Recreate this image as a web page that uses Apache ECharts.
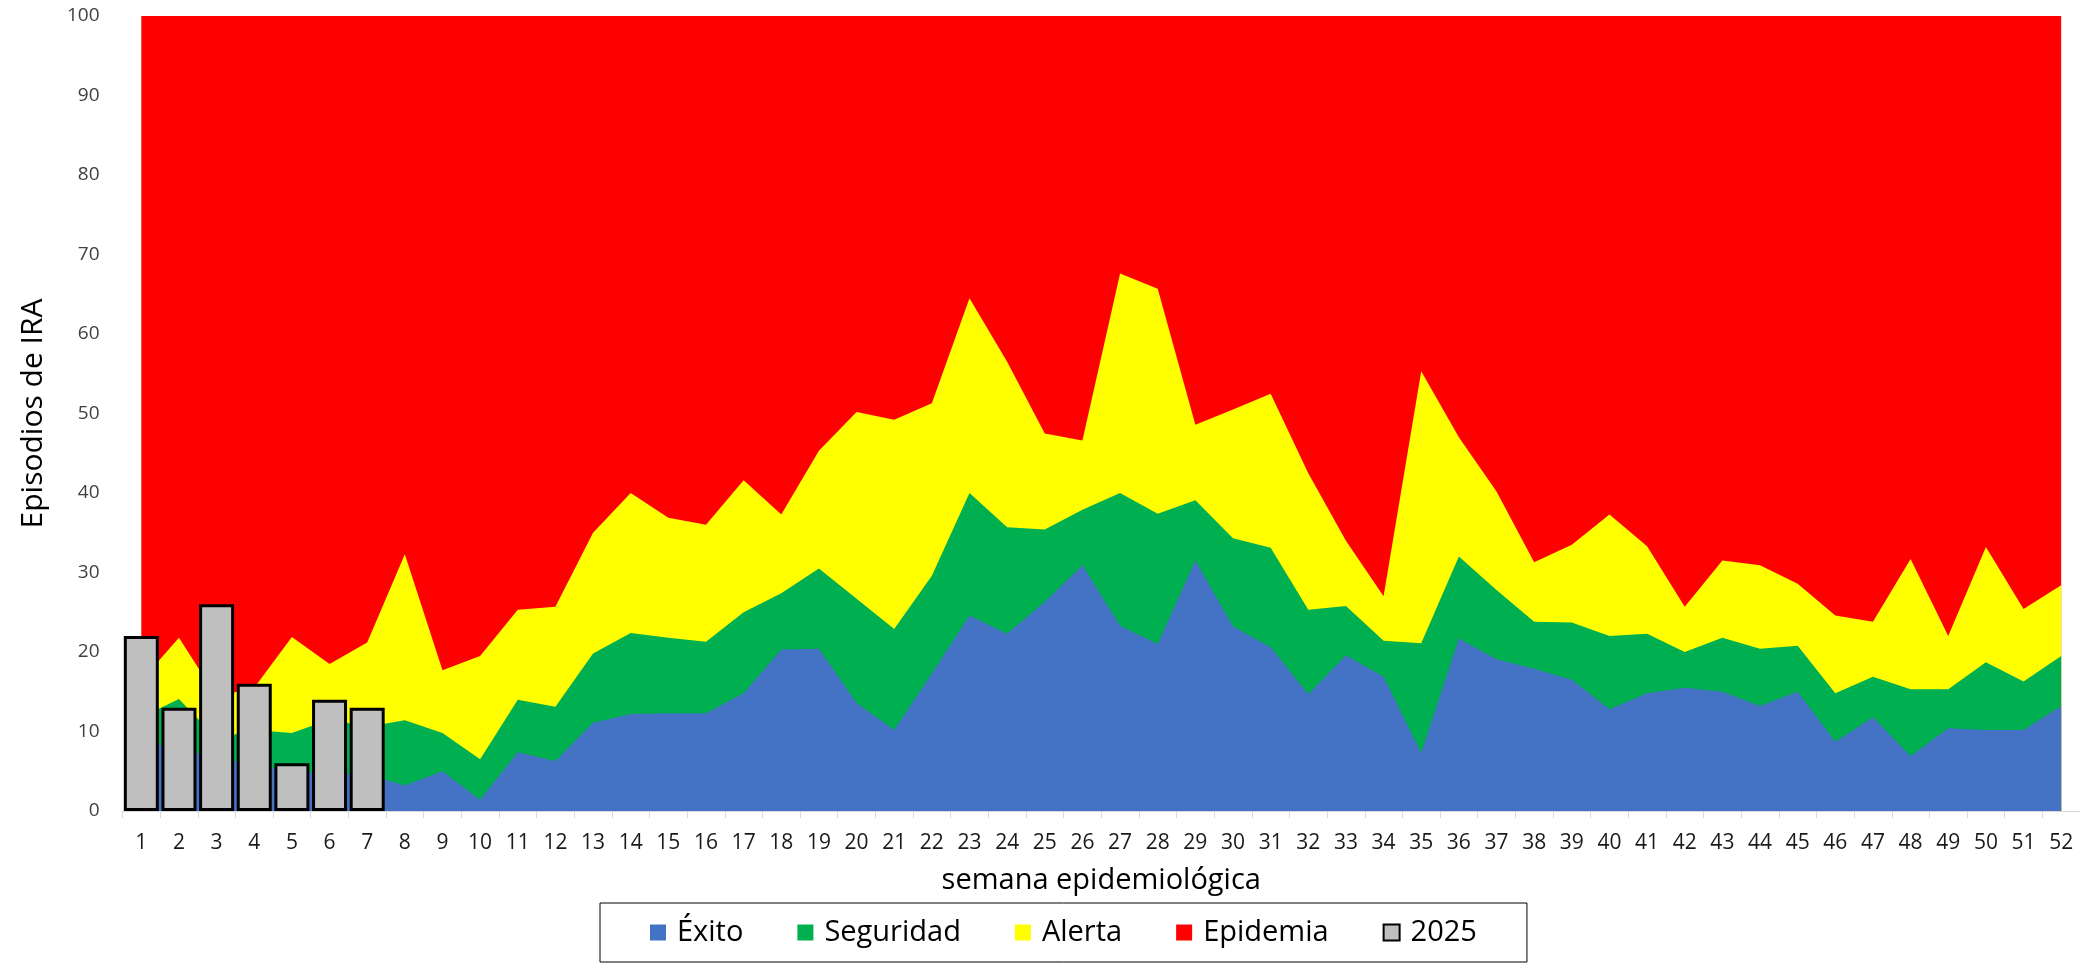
<!DOCTYPE html>
<html>
<head>
<meta charset="utf-8">
<script src="https://cdn.jsdelivr.net/npm/echarts@6/dist/echarts.min.js"></script>
<style>
  html, body { margin: 0; padding: 0; background: #fff; }
  #chart { width: 2080px; height: 969px; }
</style>
</head>
<body>
<div id="chart"></div>
<script>
const weeks = ['1','2','3','4','5','6','7','8','9','10','11','12','13','14','15','16','17','18','19','20','21','22','23','24','25','26','27','28','29','30','31','32','33','34','35','36','37','38','39','40','41','42','43','44','45','46','47','48','49','50','51','52'];

// Upper limit of each zone (cumulative boundary values)
const exito = [8.8, 7.8, 6.7, 5.8, 5.0, 4.8, 4.6, 3.2, 5.0, 1.4, 7.4, 6.3, 11.1, 12.2, 12.3, 12.3, 14.8, 20.3, 20.4, 13.6, 10.2, 17.3, 24.6, 22.3, 26.3, 30.9, 23.3, 21.0, 31.5, 23.2, 20.6, 14.7, 19.6, 16.9, 7.3, 21.7, 19.1, 17.9, 16.5, 12.8, 14.8, 15.5, 15.0, 13.2, 15.0, 8.7, 11.8, 6.9, 10.4, 10.2, 10.2, 13.2];
const seguridad = [11.8, 14.1, 9.1, 10.2, 9.8, 11.5, 10.6, 11.4, 9.8, 6.5, 14.0, 13.1, 19.8, 22.4, 21.8, 21.3, 25.0, 27.4, 30.5, 26.7, 22.9, 29.6, 40.0, 35.7, 35.4, 37.9, 40.0, 37.4, 39.1, 34.3, 33.1, 25.3, 25.8, 21.4, 21.1, 32.0, 27.8, 23.8, 23.7, 22.0, 22.3, 20.0, 21.8, 20.4, 20.8, 14.8, 16.9, 15.3, 15.3, 18.7, 16.3, 19.5];
const alerta = [16.4, 21.8, 14.4, 15.5, 21.9, 18.5, 21.2, 32.3, 17.7, 19.5, 25.3, 25.7, 35.0, 40.0, 36.9, 36.0, 41.6, 37.3, 45.3, 50.2, 49.2, 51.3, 64.5, 56.5, 47.5, 46.6, 67.6, 65.7, 48.6, 50.5, 52.5, 42.5, 34.0, 27.0, 55.3, 47.0, 40.2, 31.3, 33.5, 37.3, 33.3, 25.7, 31.5, 30.9, 28.6, 24.6, 23.8, 31.7, 22.0, 33.2, 25.4, 28.4];
const epidemia = [100, 100, 100, 100, 100, 100, 100, 100, 100, 100, 100, 100, 100, 100, 100, 100, 100, 100, 100, 100, 100, 100, 100, 100, 100, 100, 100, 100, 100, 100, 100, 100, 100, 100, 100, 100, 100, 100, 100, 100, 100, 100, 100, 100, 100, 100, 100, 100, 100, 100, 100, 100];
const casos2025 = [22, 13, 26, 16, 6, 14, 13];
const yTicks = { min: 0, max: 100, interval: 10 };

const FONT = '"Open Sans", "Noto Sans", sans-serif';

function areaSeries(name, data, color, z) {
  return {
    name: name, type: 'line', data: data, z: z,
    symbol: 'none', silent: true,
    color: color,
    itemStyle: { color: color },
    lineStyle: { width: 0, color: color },
    areaStyle: { color: color, opacity: 1 }
  };
}

const chart = echarts.init(document.getElementById('chart'), null, { renderer: 'canvas' });
chart.setOption({
  animation: false,
  backgroundColor: '#ffffff',
  grid: { left: 122.5, top: 16, width: 1960, height: 795, containLabel: false },
  xAxis: {
    type: 'category',
    data: weeks,
    boundaryGap: true,
    name: 'semana epidemiológica',
    nameLocation: 'middle',
    nameGap: 55,
    nameTextStyle: { fontFamily: FONT, fontSize: 29, color: '#000' },
    axisLine: { show: true, lineStyle: { color: '#d9d9d9', width: 1 } },
    axisTick: { show: true, length: 7, lineStyle: { color: '#d9d9d9' } },
    axisLabel: { interval: 0, margin: 22, fontFamily: FONT, fontSize: 21, color: '#1a1a1a' },
    splitLine: { show: false }
  },
  yAxis: {
    type: 'value',
    min: yTicks.min, max: yTicks.max, interval: yTicks.interval,
    name: 'Episodios de IRA',
    nameLocation: 'middle',
    nameGap: 74,
    nameTextStyle: { fontFamily: FONT, fontSize: 30, color: '#000' },
    axisLine: { show: false },
    axisTick: { show: false },
    splitLine: { show: false },
    axisLabel: { margin: 23, fontFamily: FONT, fontSize: 19, color: '#404040' }
  },
  legend: {
    left: 600, top: 903,
    orient: 'horizontal',
    padding: [15, 50],
    borderColor: '#000', borderWidth: 1,
    itemWidth: 16, itemHeight: 16, itemGap: 54,
    icon: 'rect',
    selectedMode: false,
    textStyle: { fontFamily: FONT, fontSize: 29, color: '#000', padding: [0, 0, 0, 6] },
    data: [
      { name: 'Éxito', itemStyle: { color: '#4472C4' } },
      { name: 'Seguridad', itemStyle: { color: '#00B050' } },
      { name: 'Alerta', itemStyle: { color: '#FFFF00' } },
      { name: 'Epidemia', itemStyle: { color: '#FF0000' } },
      { name: '2025', itemStyle: { color: '#bfbfbf', borderColor: '#000', borderWidth: 2 } }
    ]
  },
  graphic: [
    {
      type: 'group', left: 1837, top: 57, z: 100,
      children: [
        { type: 'rect', shape: { x: 0, y: 0, width: 169, height: 78 }, style: { fill: '#ffffff' } },
        { type: 'text', x: 81, y: 40, style: { text: 'n=110', font: '40px "Open Sans", sans-serif', fill: '#000', textAlign: 'center', textVerticalAlign: 'middle' } }
      ]
    }
  ],
  series: [
    areaSeries('Epidemia', epidemia, '#FF0000', 1),
    areaSeries('Alerta', alerta, '#FFFF00', 2),
    areaSeries('Seguridad', seguridad, '#00B050', 3),
    areaSeries('Éxito', exito, '#4472C4', 4),
    {
      name: '2025', type: 'bar', data: casos2025, z: 10,
      barWidth: 35,
      itemStyle: { color: '#bfbfbf', borderColor: '#000', borderWidth: 3 }
    }
  ]
});
</script>
</body>
</html>
